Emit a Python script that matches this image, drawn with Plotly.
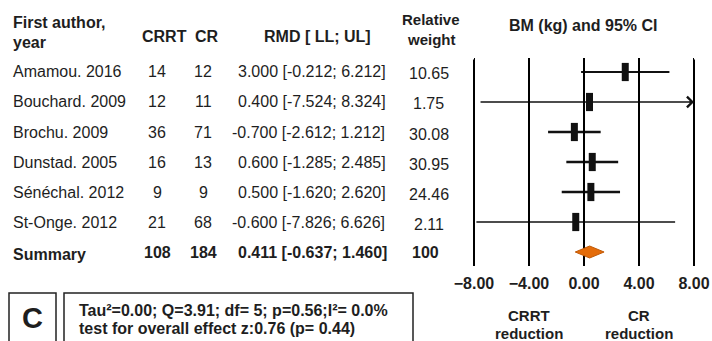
import plotly.graph_objects as go

# ---------------- data ----------------
studies = ["Amamou. 2016", "Bouchard. 2009", "Brochu. 2009", "Dunstad. 2005",
           "Sénéchal. 2012", "St-Onge. 2012"]
n_crrt = [14, 12, 36, 16, 9, 21]
n_cr = [12, 11, 71, 13, 9, 68]
rmd = [3.000, 0.400, -0.700, 0.600, 0.500, -0.600]
ll = [-0.212, -7.524, -2.612, -1.285, -1.620, -7.826]
ul = [6.212, 8.324, 1.212, 2.485, 2.620, 6.626]
weights = ["10.65", "1.75", "30.08", "30.95", "24.46", "2.11"]

summary_label = "Summary"
summary_n_crrt = 108
summary_n_cr = 184
summary_rmd = 0.411
summary_ll = -0.637
summary_ul = 1.460
summary_weight = "100"

x_ticks = [-8, -4, 0, 4, 8]
x_range = [-8, 8]

stats_line1 = "Tau²=0.00; Q=3.91; df= 5; p=0.56;I²= 0.0%"
stats_line2 = "test for overall effect z:0.76 (p= 0.44)"
panel_letter = "C"

# ---------------- helpers ----------------
W, H = 712, 341
FONT = "Liberation Sans, Arial, sans-serif"
TXT = "#1e1e1e"


def px(p):
    return p / W


def py(p):
    return 1 - p / H


rows = list(range(len(studies)))
sum_row = len(studies)
y_top, y_bot = 58, 266  # pixel extent of the forest panel
y_range = [sum_row + 0.4667, -0.4667]
dh = 0.2  # half height of the summary diamond (row units)

fig = go.Figure()

# vertical reference lines at each tick of the effect axis
gx, gy = [], []
for t in x_ticks:
    gx += [t, t, None]
    gy += [y_range[0], y_range[1], None]
fig.add_trace(go.Scatter(
    x=gx, y=gy, mode="lines", line=dict(color="#000000", width=2),
    hoverinfo="skip", showlegend=False))

# CI lines
for i in rows:
    w = float(weights[i])
    fig.add_trace(go.Scatter(
        x=[ll[i], ul[i]], y=[i, i], mode="lines",
        line=dict(color="#111111", width=1.6 + w / 32),
        hoverinfo="skip", showlegend=False))

# point estimates (vertical bar markers)
fig.add_trace(go.Scatter(
    x=rmd, y=rows, mode="markers",
    marker=dict(symbol="line-ns", size=13,
                line=dict(color="#111111", width=7)),
    showlegend=False, hoverinfo="skip"))

# summary diamond
fig.add_trace(go.Scatter(
    x=[summary_ll, summary_rmd, summary_ul, summary_rmd, summary_ll],
    y=[sum_row, sum_row - dh, sum_row, sum_row + dh, sum_row],
    mode="lines", fill="toself", fillcolor="#E46C0A",
    line=dict(color="#C05A08", width=1),
    showlegend=False, hoverinfo="skip"))

annotations = []

# reference lines also drawn as plain annotation arrows (not clipped),
# leaving the summary diamond uncovered
for t in x_ticks:
    if summary_ll <= t <= summary_ul:
        segs = [(y_range[1], sum_row - dh), (sum_row + dh, y_range[0])]
    else:
        segs = [(y_range[1], y_range[0])]
    for a, b in segs:
        annotations.append(dict(
            x=t, y=b, xref="x", yref="y", ax=t, ay=a, axref="x", ayref="y",
            text="", showarrow=True, arrowhead=0, arrowwidth=2,
            arrowcolor="#000000", standoff=0, startstandoff=0))

# arrows for CIs exceeding the axis range
for i in rows:
    if ul[i] > x_range[1]:
        annotations.append(dict(
            x=x_range[1], y=i, xref="x", yref="y", ax=-6, ay=0,
            axref="pixel", ayref="pixel", text="", showarrow=True,
            arrowhead=4, arrowsize=1.6, arrowwidth=1.3,
            arrowcolor="#111111", standoff=0))


def ann(text, x, y, xref="paper", yref="paper", xanchor="left",
        size=16, bold=False, xshift=0, yshift=0):
    annotations.append(dict(
        text=text, x=x, y=y, xref=xref, yref=yref, xanchor=xanchor,
        yanchor="middle", showarrow=False, xshift=xshift, yshift=yshift,
        font=dict(family=FONT, size=size, color=TXT,
                  weight="bold" if bold else "normal")))


# headers
ann("First author,", px(11), py(23), bold=True)
ann("year", px(11), py(42), bold=True)
ann("CRRT", px(140), py(36), bold=True)
ann("CR", px(193), py(36), bold=True)
ann("RMD [ LL; UL]", px(262), py(36), bold=True)
ann("Relative", px(431), py(20), xanchor="center", size=15, bold=True)
ann("weight", px(431), py(39), xanchor="center", size=15, bold=True)
ann("BM (kg) and 95% CI", px(583), py(25), xanchor="center", bold=True)


def rmd_text(e, lo, hi):
    return f"{e:.3f} [{lo:.3f}; {hi:.3f}]"


# study rows
for i in rows:
    ann(studies[i], px(11), i, yref="y")
    ann(str(n_crrt[i]), px(157), i, yref="y", xanchor="center")
    ann(str(n_cr[i]), px(203), i, yref="y", xanchor="center")
    ann(rmd_text(rmd[i], ll[i], ul[i]), px(236), i, yref="y",
        xshift=-6 if rmd[i] < 0 else 0)
    ann(weights[i], px(429), i, yref="y", xanchor="center", yshift=-2)

# summary row
ann(summary_label, px(11), sum_row, yref="y", bold=True, yshift=-2)
ann(str(summary_n_crrt), px(157), sum_row, yref="y", xanchor="center", bold=True)
ann(str(summary_n_cr), px(203), sum_row, yref="y", xanchor="center", bold=True)
ann(rmd_text(summary_rmd, summary_ll, summary_ul), px(236), sum_row,
    yref="y", bold=True)
ann(summary_weight, px(425), sum_row, yref="y", xanchor="center", bold=True)

# favour labels
ann("CRRT", -4, py(315), xref="x", xanchor="center", bold=True, size=15)
ann("reduction", -4, py(333), xref="x", xanchor="center", bold=True, size=15)
ann("CR", 4, py(315), xref="x", xanchor="center", bold=True, size=15)
ann("reduction", 4, py(333), xref="x", xanchor="center", bold=True, size=15)

# bottom boxes
ann(panel_letter, px(32.5), py(318), xanchor="center", size=29, bold=True)
ann(stats_line1, px(77), py(310), bold=True)
ann(stats_line2, px(77), py(328), bold=True)

shapes = [
    dict(type="rect", xref="paper", yref="paper", x0=px(9), x1=px(56),
         y0=py(293), y1=py(352), line=dict(color="#222222", width=1.5)),
    dict(type="rect", xref="paper", yref="paper", x0=px(64), x1=px(413),
         y0=py(293), y1=py(352), line=dict(color="#222222", width=1.5)),
]

fig.update_layout(
    width=W, height=H,
    margin=dict(l=0, r=0, t=0, b=0, pad=0, autoexpand=False),
    paper_bgcolor="white", plot_bgcolor="rgba(0,0,0,0)",
    annotations=annotations, shapes=shapes,
    xaxis=dict(domain=[px(474), px(694)], range=x_range,
               tickvals=x_ticks, tickformat=".2f", automargin=False,
               showgrid=True, gridcolor="#000000", gridwidth=2,
               zeroline=False, showline=False, ticks="",
               tickfont=dict(family=FONT, size=16, color=TXT, weight="bold"),
               ticklabelstandoff=6, fixedrange=True),
    yaxis=dict(domain=[py(y_bot), py(y_top)], range=y_range,
               automargin=False,
               showgrid=False, zeroline=False, showline=False,
               showticklabels=False, ticks="", fixedrange=True),
    showlegend=False,
)

fig.write_html("out.html")
